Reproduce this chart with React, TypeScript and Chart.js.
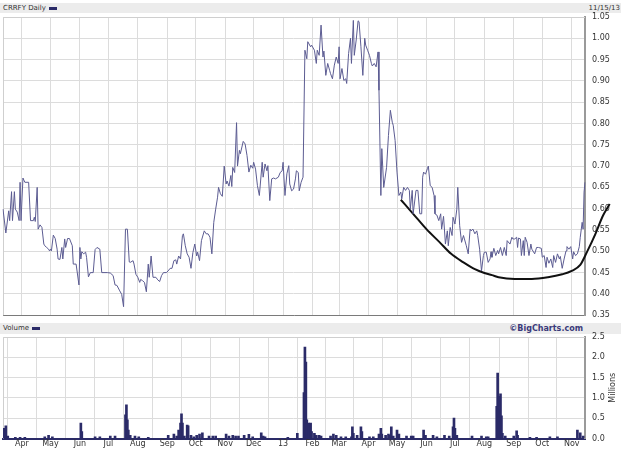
import React, { useEffect, useRef } from "react";
import { Chart, registerables } from "chart.js";
Chart.register(...registerables);

// Days counted from 2012-03-12 (left edge of chart) to 2013-11-15 (right edge)
const END_DAY = 613;
const MONTH_DAYS = [20, 50, 81, 111, 142, 173, 203, 234, 264, 295, 326, 354, 385, 415, 446, 476, 507, 538, 568, 599];
const MONTH_LABELS = ["Apr", "May", "Jun", "Jul", "Aug", "Sep", "Oct", "Nov", "Dec", "13", "Feb", "Mar", "Apr", "May", "Jun", "Jul", "Aug", "Sep", "Oct", "Nov"];

const PRICE_DAYS = [
  0, 3, 6, 7, 9, 10, 12, 13, 15, 17, 18, 19, 21, 23, 27, 29, 32, 33, 34, 36, 37, 39, 41, 43, 44, 46, 48, 49, 50, 51,
  53, 55, 57, 58, 60, 62, 63, 65, 66, 68, 70, 73, 74, 77, 80, 81, 82, 83, 85, 87, 88, 90, 92, 95, 97, 99, 102, 104, 110, 113,
  116, 118, 120, 123, 125, 127, 129, 131, 133, 134, 137, 138, 140, 142, 144, 145, 147, 149, 151, 153, 154, 156, 158, 161, 163, 165, 167, 169, 172, 174,
  176, 178, 180, 182, 183, 185, 187, 189, 190, 192, 194, 196, 198, 200, 202, 204, 205, 207, 209, 212, 214, 216, 218, 220, 222, 224, 226, 227, 229, 231,
  233, 235, 236, 238, 240, 241, 242, 244, 246, 247, 249, 250, 253, 255, 257, 259, 261, 263, 264, 266, 268, 270, 273, 274, 276, 278, 279, 281, 283, 285,
  287, 290, 292, 294, 295, 297, 299, 301, 302, 304, 306, 308, 309, 311, 312, 314, 316, 318, 320, 321, 324, 325, 328, 330, 331, 333, 335, 337, 338, 340,
  342, 344, 345, 347, 349, 351, 353, 354, 355, 357, 359, 361, 362, 364, 366, 367, 369, 370, 372, 374, 375, 377, 379, 381, 382, 384, 386, 388, 389, 391,
  393, 395, 396, 398, 399, 401, 404, 406, 408, 410, 411, 413, 415, 417, 419, 420, 422, 424, 426, 428, 429, 431, 432, 435, 437, 439, 441, 442, 443, 445,
  447, 448, 450, 452, 454, 455, 457, 459, 461, 462, 464, 466, 468, 469, 471, 473, 474, 476, 478, 479, 481, 483, 485, 486, 488, 490, 492, 493, 495, 497,
  499, 500, 502, 504, 506, 507, 509, 511, 513, 514, 515, 517, 519, 521, 522, 524, 526, 528, 530, 531, 534, 536, 537, 539, 541, 542, 543, 545, 546, 548,
  549, 550, 552, 554, 556, 557, 560, 562, 564, 567, 568, 570, 572, 573, 575, 577, 579, 580, 582, 584, 586, 587, 589, 591, 593, 594, 596, 598, 600, 601,
  603, 605, 607, 608, 610, 611, 612, 613,
];
const PRICE_VALUES = [
  0.599, 0.543, 0.595, 0.572, 0.640, 0.572, 0.640, 0.599, 0.592, 0.572, 0.662, 0.572, 0.672, 0.662, 0.662, 0.572, 0.572, 0.580, 0.570, 0.650, 0.552, 0.562, 0.556, 0.517, 0.513, 0.509, 0.505, 0.501, 0.505, 0.501,
  0.538, 0.530, 0.505, 0.482, 0.481, 0.509, 0.482, 0.529, 0.509, 0.530, 0.530, 0.513, 0.470, 0.470, 0.421, 0.509, 0.482, 0.499, 0.494, 0.498, 0.486, 0.440, 0.450, 0.450, 0.504, 0.509, 0.505, 0.450, 0.450, 0.449,
  0.443, 0.421, 0.420, 0.407, 0.399, 0.370, 0.552, 0.552, 0.475, 0.474, 0.478, 0.470, 0.446, 0.439, 0.427, 0.434, 0.431, 0.427, 0.405, 0.470, 0.439, 0.489, 0.439, 0.439, 0.433, 0.429, 0.443, 0.450, 0.450, 0.454,
  0.460, 0.460, 0.478, 0.480, 0.470, 0.489, 0.482, 0.537, 0.541, 0.513, 0.494, 0.486, 0.460, 0.497, 0.517, 0.489, 0.498, 0.478, 0.525, 0.548, 0.541, 0.541, 0.533, 0.494, 0.568, 0.599, 0.627, 0.650, 0.635, 0.629,
  0.700, 0.658, 0.665, 0.653, 0.678, 0.652, 0.697, 0.685, 0.802, 0.700, 0.737, 0.729, 0.758, 0.752, 0.725, 0.686, 0.702, 0.695, 0.709, 0.693, 0.654, 0.631, 0.709, 0.674, 0.705, 0.689, 0.701, 0.619, 0.670, 0.672,
  0.670, 0.674, 0.685, 0.689, 0.709, 0.631, 0.682, 0.701, 0.658, 0.642, 0.646, 0.670, 0.689, 0.685, 0.642, 0.662, 0.674, 0.972, 0.952, 0.992, 0.980, 0.984, 0.972, 0.941, 0.972, 0.960, 1.031, 0.956, 0.970, 0.913,
  0.941, 0.925, 0.917, 0.905, 0.937, 0.956, 0.941, 0.980, 0.905, 0.929, 0.901, 0.905, 0.894, 0.964, 1.000, 0.941, 1.042, 0.960, 0.996, 1.041, 1.039, 0.980, 0.913, 1.000, 0.984, 0.972, 0.960, 0.941, 0.935, 0.941,
  0.933, 0.968, 0.878, 0.631, 0.741, 0.650, 0.697, 0.772, 0.831, 0.803, 0.796, 0.760, 0.686, 0.631, 0.639, 0.623, 0.650, 0.643, 0.650, 0.643, 0.599, 0.643, 0.588, 0.643, 0.643, 0.588, 0.588, 0.674, 0.686, 0.681,
  0.694, 0.700, 0.654, 0.650, 0.631, 0.588, 0.585, 0.572, 0.588, 0.552, 0.582, 0.517, 0.548, 0.513, 0.556, 0.537, 0.580, 0.564, 0.599, 0.650, 0.560, 0.521, 0.537, 0.529, 0.513, 0.494, 0.552, 0.548, 0.552, 0.541,
  0.548, 0.537, 0.505, 0.454, 0.490, 0.498, 0.498, 0.474, 0.482, 0.499, 0.486, 0.507, 0.490, 0.502, 0.494, 0.509, 0.490, 0.509, 0.490, 0.525, 0.517, 0.533, 0.529, 0.529, 0.533, 0.509, 0.531, 0.529, 0.490, 0.525,
  0.490, 0.533, 0.521, 0.490, 0.517, 0.505, 0.494, 0.509, 0.509, 0.507, 0.486, 0.490, 0.462, 0.486, 0.472, 0.482, 0.462, 0.490, 0.474, 0.494, 0.482, 0.488, 0.460, 0.482, 0.501, 0.511, 0.505, 0.511, 0.482, 0.499,
  0.490, 0.494, 0.511, 0.533, 0.568, 0.552, 0.639, 0.662,
];

// Hand-drawn "cup" trend curve
const CUP_DAYS = [419, 432, 446, 460, 472, 485, 497, 507, 515, 522, 539, 557, 574, 589, 599, 608, 615, 624, 632, 639];
const CUP_VALUES = [0.621, 0.588, 0.552, 0.521, 0.494, 0.474, 0.458, 0.449, 0.444, 0.439, 0.435, 0.435, 0.439, 0.446, 0.454, 0.468, 0.498, 0.541, 0.584, 0.611];

// Volume in millions
const VOL_DAYS = [
  0, 1, 3, 5, 13, 18, 23, 44, 48, 52, 82, 83, 97, 102, 113, 118, 129, 130, 131, 132, 134, 139, 143, 153, 174, 180, 183, 185, 187, 188,
  189, 191, 194, 195, 198, 201, 204, 207, 210, 217, 221, 224, 235, 238, 242, 245, 248, 254, 259, 263, 272, 274, 276, 300, 310, 317, 318, 319, 320, 322,
  324, 325, 328, 330, 333, 335, 345, 348, 351, 356, 361, 367, 368, 369, 373, 377, 378, 386, 390, 396, 398, 399, 403, 406, 408, 409, 411, 415, 417, 425,
  430, 432, 443, 445, 453, 457, 465, 470, 474, 475, 476, 478, 494, 504, 509, 511, 520, 521, 522, 523, 524, 525, 526, 529, 538, 541, 542, 555, 562, 576,
  584, 605, 608, 611,
];
const VOL_VALUES = [
  0.17, 0.25, 0.31, 0.06, 0.03, 0.03, 0.03, 0.04, 0.08, 0.04, 0.38, 0.17, 0.04, 0.04, 0.06, 0.06, 0.58, 0.83, 0.46, 0.21, 0.08, 0.06, 0.04, 0.03, 0.08, 0.11, 0.06, 0.21, 0.38, 0.61,
  0.38, 0.06, 0.33, 0.31, 0.08, 0.04, 0.08, 0.11, 0.14, 0.06, 0.06, 0.06, 0.11, 0.06, 0.08, 0.06, 0.06, 0.08, 0.10, 0.04, 0.14, 0.06, 0.04, 0.03, 0.13, 1.13, 2.25, 1.88, 0.46, 0.38,
  0.38, 0.17, 0.13, 0.08, 0.08, 0.06, 0.06, 0.11, 0.08, 0.04, 0.04, 0.04, 0.29, 0.13, 0.08, 0.29, 0.17, 0.04, 0.04, 0.11, 0.25, 0.11, 0.08, 0.11, 0.08, 0.29, 0.06, 0.21, 0.11, 0.06,
  0.06, 0.06, 0.21, 0.08, 0.08, 0.04, 0.08, 0.06, 0.29, 0.50, 0.25, 0.08, 0.06, 0.06, 0.04, 0.04, 0.79, 1.61, 1.04, 0.71, 1.10, 0.56, 0.13, 0.06, 0.06, 0.19, 0.08, 0.03, 0.03, 0.04,
  0.04, 0.21, 0.14, 0.06,
];

const PRICE_TICK_MIN = 0.35;
const PRICE_TICK_MAX = 1.05;
const VOL_TICK_MAX = 2.5;

const FONT = "'DejaVu Sans', sans-serif";
const GRID = "#dcdcdc";
const LINE = "#5c5c92";
const NAVY = "#2b2b68";

const framePlugin = {
  id: "frame",
  beforeDatasetsDraw(chart: any) {
    const { ctx, chartArea } = chart;
    ctx.save();
    ctx.strokeStyle = "#cfcfcf";
    ctx.lineWidth = 1;
    ctx.beginPath();
    ctx.moveTo(chartArea.left + 0.5, chartArea.bottom);
    ctx.lineTo(chartArea.left + 0.5, chartArea.top + 0.5);
    ctx.lineTo(chartArea.right, chartArea.top + 0.5);
    ctx.stroke();
    ctx.restore();
  },
};

const millionsPlugin = {
  id: "millions",
  afterDraw(chart: any) {
    const { ctx, chartArea } = chart;
    ctx.save();
    ctx.font = `8px ${FONT}`;
    ctx.fillStyle = "#333";
    ctx.textAlign = "center";
    ctx.textBaseline = "middle";
    ctx.translate(613, (chartArea.top + chartArea.bottom) / 2);
    ctx.rotate(-Math.PI / 2);
    ctx.fillText("Millions", 0, 0);
    ctx.restore();
  },
};

const monthTicks = (s: any) => {
  s.ticks = MONTH_DAYS.map((v) => ({ value: v }));
};

const rightAxisGrid = { color: GRID, drawTicks: true, tickLength: 7, tickColor: "rgba(0,0,0,0)" };

export default function App() {
  const priceRef = useRef<HTMLCanvasElement>(null);
  const volRef = useRef<HTMLCanvasElement>(null);

  useEffect(() => {
    const price = new Chart(priceRef.current!, {
      type: "line",
      data: {
        datasets: [
          {
            data: PRICE_DAYS.map((d, i) => ({ x: d, y: PRICE_VALUES[i] })),
            borderColor: LINE,
            borderWidth: 1,
            pointRadius: 0,
            tension: 0,
          },
          {
            data: CUP_DAYS.map((d, i) => ({ x: d, y: CUP_VALUES[i] })),
            borderColor: "#111",
            borderWidth: 2,
            pointRadius: 0,
            cubicInterpolationMode: "monotone",
            clip: false as any,
          },
        ],
      },
      options: {
        responsive: false,
        animation: false,
        layout: { padding: { left: 3, top: 17, right: 0, bottom: 4 } },
        plugins: { legend: { display: false }, tooltip: { enabled: false } },
        scales: {
          x: {
            type: "linear",
            bounds: "data",
            afterDataLimits: (s: any) => { s.min = 0; s.max = END_DAY; },
            afterBuildTicks: monthTicks,
            afterFit: (s: any) => { s.height = 0; },
            ticks: { display: false },
            grid: { color: GRID, drawTicks: false },
            border: { color: "#7a7a7a", width: 1 },
          },
          y: {
            position: "right",
            min: PRICE_TICK_MIN,
            max: PRICE_TICK_MAX,
            afterFit: (s: any) => { s.width = 36; },
            ticks: {
              stepSize: 0.05,
              padding: 0,
              color: "#333",
              font: { family: FONT, size: 8 },
              callback: (v: any) => Number(v).toFixed(2),
            },
            grid: rightAxisGrid,
            border: { color: "#9a9a9a", width: 2 },
          },
        },
      } as any,
      plugins: [framePlugin],
    });

    const vol = new Chart(volRef.current!, {
      type: "bar",
      data: {
        datasets: [
          {
            data: VOL_DAYS.map((d, i) => ({ x: d, y: VOL_VALUES[i] })),
            backgroundColor: NAVY,
            barThickness: 2,
          },
        ],
      },
      options: {
        responsive: false,
        animation: false,
        layout: { padding: { left: 3, top: 17, right: 0, bottom: 0 } },
        plugins: { legend: { display: false }, tooltip: { enabled: false } },
        scales: {
          x: {
            type: "linear",
            min: 0,
            max: END_DAY,
            offset: false,
            afterBuildTicks: monthTicks,
            afterFit: (s: any) => { s.height = 10.5; },
            ticks: {
              padding: 1,
              autoSkip: false,
              maxRotation: 0,
              color: "#333",
              font: { family: FONT, size: 8 },
              callback: (v: any) => {
                const i = MONTH_DAYS.indexOf(Number(v));
                return i >= 0 ? MONTH_LABELS[i] : "";
              },
            },
            grid: { color: GRID, drawTicks: false },
            border: { color: NAVY, width: 2 },
          },
          y: {
            position: "right",
            min: 0,
            max: VOL_TICK_MAX,
            afterFit: (s: any) => { s.width = 36; },
            ticks: {
              stepSize: 0.5,
              padding: 0,
              color: "#333",
              font: { family: FONT, size: 8 },
              callback: (v: any) => Number(v).toFixed(1),
            },
            grid: rightAxisGrid,
            border: { color: "#9a9a9a", width: 2 },
          },
        },
      } as any,
      plugins: [framePlugin, millionsPlugin],
    });

    return () => {
      price.destroy();
      vol.destroy();
    };
  }, []);

  const strip: React.CSSProperties = {
    position: "absolute",
    left: 0,
    width: 621,
    height: 10,
    background: "#ececec",
    font: `7px ${FONT}`,
    lineHeight: "10px",
    color: "#333",
  };
  const swatch: React.CSSProperties = {
    display: "inline-block",
    width: 8,
    height: 3,
    background: NAVY,
    marginLeft: 3,
    verticalAlign: "middle",
  };

  return (
    <div style={{ position: "fixed", left: 0, top: 0, width: 621, height: 449, background: "#fff", overflow: "hidden" }}>
      <div style={{ ...strip, top: 3 }}>
        <span style={{ position: "absolute", left: 3 }}>CRRFY Daily<span style={swatch} /></span>
        <span style={{ position: "absolute", right: 1 }}>11/15/13</span>
      </div>
      <canvas ref={priceRef} width={621} height={320} style={{ position: "absolute", left: 0, top: 0 }} />
      <div style={{ ...strip, top: 323, height: 11, lineHeight: "11px" }}>
        <span style={{ position: "absolute", left: 3 }}>Volume<span style={swatch} /></span>
        <span style={{ position: "absolute", right: 38, fontWeight: "bold", color: "#3a3a7a", fontSize: 8 }}>©BigCharts.com</span>
      </div>
      <canvas ref={volRef} width={621} height={129} style={{ position: "absolute", left: 0, top: 320 }} />
    </div>
  );
}
